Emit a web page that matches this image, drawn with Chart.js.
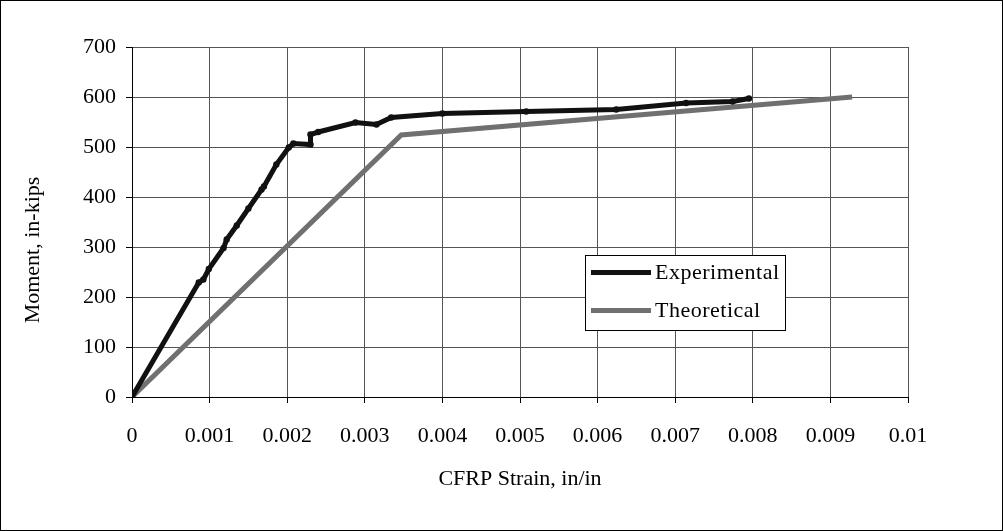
<!DOCTYPE html>
<html>
<head>
<meta charset="utf-8">
<script src="https://cdn.jsdelivr.net/npm/chart.js@4"></script>
<style>
html,body{margin:0;padding:0;background:#fff;}
#wrap{width:1003px;height:531px;position:relative;}
canvas{display:block;}
</style>
</head>
<body>
<div id="wrap"><canvas id="c" width="1003" height="531"></canvas></div>
<script>
// ---- data ----
const expStrain = [0, 0.00086, 0.00092, 0.00099, 0.00118, 0.00122, 0.00135, 0.0015, 0.00167, 0.0017, 0.00186, 0.00202, 0.00208, 0.0023, 0.0023, 0.0024, 0.00288, 0.00315, 0.00334, 0.004, 0.00508, 0.00624, 0.00714, 0.00774, 0.00795];
const expMoment = [0, 229, 235, 256, 298, 315, 343, 377, 415, 421, 465, 499, 507, 505, 525, 530, 549, 545, 559, 567, 571, 575, 588, 591, 597];
const theoStrain = [0, 0.00347, 0.00928];
const theoMoment = [0, 524, 600];
const seriesNames = ['Experimental', 'Theoretical'];
const xTickLabels = ['0','0.001','0.002','0.003','0.004','0.005','0.006','0.007','0.008','0.009','0.01'];
const yTickLabels = ['0','100','200','300','400','500','600','700'];
const xTitle = 'CFRP Strain, in/in';
const yTitle = 'Moment, in-kips';

const FONT = '"Liberation Serif", "Times New Roman", serif';

const toPts = (xs, ys) => xs.map((x, i) => ({x: x, y: ys[i]}));

const decor = {
  id: 'decor',
  beforeDraw(chart) {
    const ctx = chart.ctx;
    ctx.save();
    ctx.fillStyle = '#fff';
    ctx.fillRect(0, 0, chart.width, chart.height);
    ctx.restore();
  },
  afterDraw(chart) {
    const ctx = chart.ctx;
    const ca = chart.chartArea;
    ctx.save();
    // outer border
    ctx.strokeStyle = '#000';
    ctx.lineWidth = 1;
    ctx.strokeRect(0.5, 0.5, chart.width - 1, chart.height - 1);
    // axis titles
    ctx.fillStyle = '#000';
    ctx.font = '22px ' + FONT;
    ctx.textAlign = 'center';
    ctx.textBaseline = 'middle';
    ctx.fillText(xTitle, (ca.left + ca.right) / 2, 479);
    ctx.save();
    ctx.translate(33, 250);
    ctx.rotate(-Math.PI / 2);
    ctx.fillText(yTitle, 0, 0);
    ctx.restore();
    // legend
    const bx = 585.5, by = 255.5, bw = 200, bh = 75;
    ctx.fillStyle = '#fff';
    ctx.fillRect(bx, by, bw, bh);
    ctx.strokeStyle = '#000';
    ctx.lineWidth = 1;
    ctx.strokeRect(bx, by, bw, bh);
    const rows = [272.5, 310.5];
    chart.data.datasets.forEach((ds, i) => {
      ctx.strokeStyle = ds.borderColor;
      ctx.lineWidth = 5;
      ctx.lineCap = 'butt';
      ctx.beginPath();
      ctx.moveTo(591, rows[i]);
      ctx.lineTo(651, rows[i]);
      ctx.stroke();
      ctx.fillStyle = '#000';
      ctx.textAlign = 'left';
      ctx.textBaseline = 'middle';
      ctx.font = '22px ' + FONT;
      try { ctx.letterSpacing = '0.5px'; } catch (e) {}
      ctx.fillText(ds.label, 655, rows[i] + 1);
      try { ctx.letterSpacing = '0px'; } catch (e) {}
    });
    ctx.restore();
  }
};

new Chart(document.getElementById('c'), {
  type: 'scatter',
  data: {
    datasets: [
      {
        label: seriesNames[0],
        data: toPts(expStrain, expMoment),
        showLine: true,
        borderColor: '#111111',
        backgroundColor: '#111111',
        borderWidth: 5,
        pointRadius: 3.2,
        pointBorderWidth: 0,
        tension: 0
      },
      {
        label: seriesNames[1],
        data: toPts(theoStrain, theoMoment),
        showLine: true,
        borderColor: '#707070',
        backgroundColor: '#707070',
        borderWidth: 5,
        pointRadius: 0,
        tension: 0
      }
    ]
  },
  options: {
    responsive: false,
    animation: false,
    devicePixelRatio: 1,
    layout: { padding: { left: 0, top: 47, right: 95, bottom: 0 } },
    plugins: { legend: { display: false }, tooltip: { enabled: false } },
    scales: {
      x: {
        type: 'linear',
        min: 0, max: 0.01,
        afterFit(s) { s.height = 134; },
        afterBuildTicks(s) { s.ticks = xTickLabels.map(v => ({value: parseFloat(v)})); },
        ticks: {
          autoSkip: false, maxRotation: 0, minRotation: 0,
          color: '#000', padding: 20,
          font: { family: FONT, size: 22 },
          callback: (v, i) => xTickLabels[i]
        },
        grid: { color: '#555', lineWidth: 1, tickLength: 6, tickColor: '#000' },
        border: { color: '#000', width: 1 }
      },
      y: {
        type: 'linear',
        min: 0, max: 700,
        afterFit(s) { s.width = 132; },
        afterBuildTicks(s) { s.ticks = yTickLabels.map(v => ({value: parseFloat(v)})); },
        ticks: {
          color: '#000', padding: 10,
          font: { family: FONT, size: 22 },
          callback: (v, i) => yTickLabels[i]
        },
        grid: { color: '#555', lineWidth: 1, tickLength: 6, tickColor: '#000' },
        border: { color: '#000', width: 1 }
      }
    }
  },
  plugins: [decor]
});
</script>
</body>
</html>
